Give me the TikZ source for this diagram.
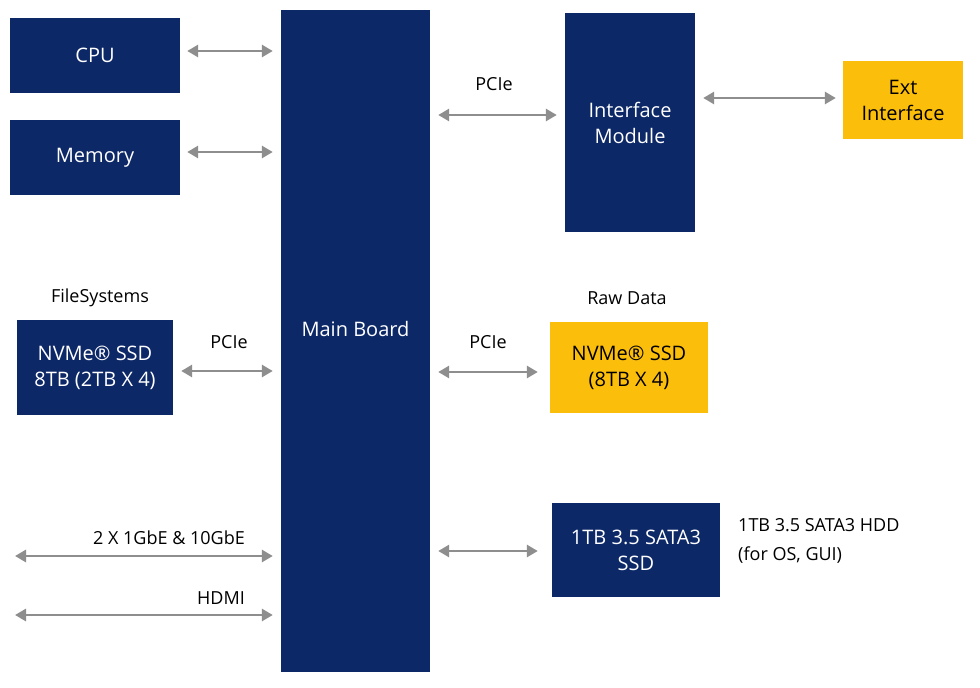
\documentclass[tikz,border=0pt]{standalone}
\usepackage{fontspec}
\setmainfont{Open Sans}
\usetikzlibrary{arrows.meta}
\definecolor{navy}{HTML}{0D2867}
\definecolor{gold}{HTML}{FBBE0B}
\definecolor{arrgrey}{HTML}{8E8E8E}
\begin{document}
\begin{tikzpicture}[x=1pt,y=-1pt,
  blk/.style={fill=navy,draw=none,text=white,font=\fontsize{20}{26}\selectfont,align=center,inner sep=0pt},
  ylw/.style={fill=gold,draw=none,text=black,font=\fontsize{20}{26}\selectfont,align=center,inner sep=0pt},
  lbl/.style={font=\fontsize{18}{29}\selectfont,text=black,inner sep=0pt,align=left},
  link/.style={draw=arrgrey,line width=2.8pt,{Triangle[width=12pt,length=11pt]}-{Triangle[width=12pt,length=11pt]}}]
\useasboundingbox (0,0) rectangle (980,688);
\fill[white] (0,0) rectangle (980,688);
% boxes
\node[blk,minimum width=170pt,minimum height=75pt] (cpu) at (95,55.5) {CPU};
\node[blk,minimum width=170pt,minimum height=75pt] (mem) at (95,157.5) {Memory};
\node[blk,minimum width=149pt,minimum height=662pt] (mb) at (355.5,341) {};
\node[text=white,font=\fontsize{20}{26}\selectfont,inner sep=0pt] (mbt) at (355.5,329) {Main Board};
\node[blk,minimum width=130pt,minimum height=219pt] (ifm) at (630,122.5) {Interface\\Module};
\node[ylw,minimum width=120pt,minimum height=78pt] (ext) at (903,100) {Ext\\Interface};
\node[blk,minimum width=156pt,minimum height=95pt] (nvl) at (95,367.5) {NVMe® SSD\\8TB (2TB X 4)};
\node[ylw,minimum width=158pt,minimum height=91pt] (nvr) at (629,367.5) {NVMe® SSD\\(8TB X 4)};
\node[blk,minimum width=168pt,minimum height=94pt] (sata) at (636,550) {1TB 3.5 SATA3\\SSD};
% labels
\node[lbl] (fs) at (100,298) {FileSystems};
\node[lbl] (rd) at (627,298) {Raw Data};
\node[lbl] (p1) at (494,84) {PCIe};
\node[lbl] (p2) at (229,342) {PCIe};
\node[lbl] (p3) at (488,342) {PCIe};
\node[lbl,anchor=west] (hdd) at (738,541) {1TB 3.5 SATA3 HDD\\(for OS, GUI)};
\node[lbl,anchor=east] (eth) at (245,538) {2 X 1GbE \& 10GbE};
\node[lbl,anchor=east] (hdmi) at (245,598) {HDMI};
% free ends
\coordinate (ethL) at (15,556);
\coordinate (hdmiL) at (15,615);
% connectors
\draw[link] ([xshift=7pt]cpu.east |- 0,51) -- ([xshift=-8pt]mb.west |- 0,51);
\draw[link] ([xshift=7pt]mem.east |- 0,152) -- ([xshift=-8pt]mb.west |- 0,152);
\draw[link] ([xshift=8pt]mb.east |- 0,115) -- ([xshift=-8pt]ifm.west |- 0,115);
\draw[link] ([xshift=8pt]ifm.east |- 0,98) -- ([xshift=-7pt]ext.west |- 0,98);
\draw[link] ([xshift=8pt]nvl.east |- 0,371) -- ([xshift=-8pt]mb.west |- 0,371);
\draw[link] ([xshift=8pt]mb.east |- 0,372) -- ([xshift=-12pt]nvr.west |- 0,372);
\draw[link] ([xshift=8pt]mb.east |- 0,551) -- ([xshift=-14pt]sata.west |- 0,551);
\draw[link] (ethL) -- ([xshift=-8pt]mb.west |- ethL);
\draw[link] (hdmiL) -- ([xshift=-8pt]mb.west |- hdmiL);
\end{tikzpicture}
\end{document}
